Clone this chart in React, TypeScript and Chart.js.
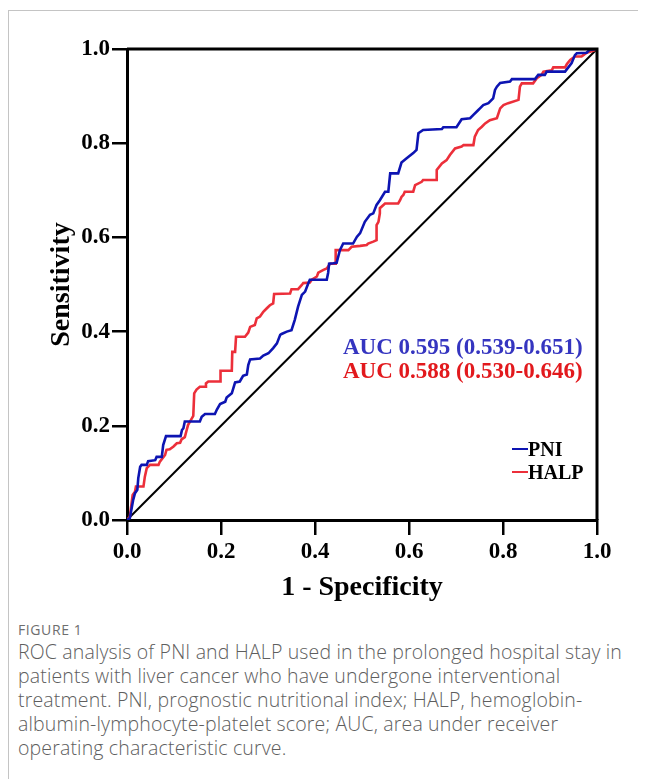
import React, { useEffect, useRef } from "react";
import { Chart, registerables } from "chart.js";

Chart.register(...registerables);

// ---- data ----
const pniFpr = [0, 0.006, 0.013, 0.017, 0.022, 0.024, 0.028, 0.031, 0.042, 0.045, 0.06, 0.063, 0.074, 0.077, 0.083, 0.114, 0.117, 0.12, 0.123, 0.155, 0.159, 0.166, 0.187, 0.191, 0.198, 0.209, 0.212, 0.223, 0.23, 0.24, 0.247, 0.255, 0.258, 0.262, 0.283, 0.29, 0.301, 0.311, 0.319, 0.326, 0.329, 0.34, 0.35, 0.357, 0.364, 0.372, 0.379, 0.386, 0.389, 0.425, 0.428, 0.43, 0.439, 0.446, 0.453, 0.46, 0.481, 0.489, 0.496, 0.506, 0.517, 0.524, 0.531, 0.538, 0.549, 0.556, 0.56, 0.577, 0.584, 0.595, 0.609, 0.616, 0.62, 0.63, 0.67, 0.673, 0.701, 0.712, 0.73, 0.737, 0.747, 0.751, 0.758, 0.769, 0.779, 0.783, 0.787, 0.794, 0.815, 0.819, 0.868, 0.875, 0.889, 0.893, 0.932, 0.946, 0.953, 0.957, 0.978, 0.984, 1];
const pniTpr = [0, 0.004, 0.042, 0.057, 0.064, 0.089, 0.113, 0.117, 0.117, 0.125, 0.127, 0.134, 0.134, 0.159, 0.178, 0.178, 0.191, 0.195, 0.209, 0.209, 0.219, 0.225, 0.225, 0.234, 0.246, 0.251, 0.26, 0.269, 0.292, 0.294, 0.306, 0.309, 0.329, 0.341, 0.343, 0.349, 0.354, 0.365, 0.375, 0.393, 0.395, 0.4, 0.403, 0.425, 0.453, 0.478, 0.485, 0.503, 0.51, 0.51, 0.525, 0.544, 0.545, 0.546, 0.573, 0.587, 0.587, 0.601, 0.609, 0.633, 0.648, 0.651, 0.669, 0.679, 0.697, 0.697, 0.736, 0.736, 0.759, 0.768, 0.779, 0.786, 0.821, 0.828, 0.83, 0.834, 0.834, 0.851, 0.853, 0.86, 0.87, 0.874, 0.881, 0.885, 0.895, 0.913, 0.92, 0.928, 0.931, 0.936, 0.936, 0.945, 0.945, 0.952, 0.952, 0.97, 0.987, 0.991, 0.992, 0.998, 1];

const halpFpr = [0, 0.006, 0.012, 0.017, 0.019, 0.035, 0.038, 0.042, 0.049, 0.067, 0.07, 0.081, 0.084, 0.091, 0.099, 0.106, 0.113, 0.116, 0.123, 0.127, 0.13, 0.134, 0.141, 0.143, 0.148, 0.155, 0.166, 0.168, 0.173, 0.198, 0.199, 0.223, 0.224, 0.23, 0.232, 0.251, 0.258, 0.262, 0.272, 0.276, 0.283, 0.29, 0.297, 0.304, 0.311, 0.313, 0.347, 0.35, 0.364, 0.372, 0.375, 0.389, 0.393, 0.404, 0.407, 0.418, 0.425, 0.432, 0.443, 0.444, 0.471, 0.478, 0.496, 0.51, 0.513, 0.524, 0.531, 0.531, 0.535, 0.538, 0.538, 0.549, 0.577, 0.581, 0.584, 0.588, 0.591, 0.609, 0.613, 0.627, 0.63, 0.659, 0.659, 0.67, 0.68, 0.687, 0.698, 0.712, 0.716, 0.737, 0.74, 0.747, 0.755, 0.762, 0.772, 0.787, 0.794, 0.801, 0.811, 0.833, 0.836, 0.84, 0.864, 0.872, 0.882, 0.886, 0.904, 0.907, 0.932, 0.936, 0.943, 0.953, 0.967, 0.971, 0.978, 0.985, 0.996, 1];
const halpTpr = [0, 0.007, 0.053, 0.06, 0.071, 0.071, 0.092, 0.11, 0.117, 0.117, 0.124, 0.138, 0.149, 0.15, 0.156, 0.163, 0.164, 0.171, 0.176, 0.191, 0.202, 0.209, 0.221, 0.269, 0.277, 0.283, 0.283, 0.29, 0.294, 0.294, 0.317, 0.317, 0.357, 0.357, 0.389, 0.389, 0.398, 0.41, 0.414, 0.428, 0.432, 0.442, 0.449, 0.456, 0.46, 0.48, 0.481, 0.49, 0.49, 0.499, 0.503, 0.504, 0.51, 0.517, 0.525, 0.531, 0.534, 0.544, 0.544, 0.573, 0.573, 0.58, 0.582, 0.584, 0.587, 0.591, 0.594, 0.626, 0.633, 0.651, 0.662, 0.672, 0.672, 0.679, 0.686, 0.69, 0.697, 0.697, 0.711, 0.718, 0.722, 0.722, 0.743, 0.757, 0.764, 0.775, 0.789, 0.793, 0.796, 0.796, 0.814, 0.828, 0.835, 0.842, 0.849, 0.853, 0.874, 0.881, 0.885, 0.892, 0.92, 0.927, 0.927, 0.938, 0.945, 0.952, 0.955, 0.961, 0.961, 0.968, 0.977, 0.984, 0.984, 0.987, 0.992, 0.994, 0.998, 1];

const refFpr = [0, 1];
const refTpr = [0, 1];

const seriesNames = ["PNI", "HALP"];
const seriesColors = ["#0d14b2", "#ec2f3a"];
const aucLabels = ["AUC 0.595 (0.539-0.651)", "AUC 0.588 (0.530-0.646)"];
const aucColors = ["#3535c0", "#e2191d"];
const xTitle = "1 - Specificity";
const yTitle = "Sensitivity";
const tickMin = 0;
const tickMax = 1;
const tickStep = 0.2;

const captionTitle = "FIGURE 1";
const captionText =
  "ROC analysis of PNI and HALP used in the prolonged hospital stay in patients with liver cancer who have undergone interventional treatment. PNI, prognostic nutritional index; HALP, hemoglobin-albumin-lymphocyte-platelet score; AUC, area under receiver operating characteristic curve.";

const toPoints = (xs: number[], ys: number[]) => xs.map((x, i) => ({ x, y: ys[i] }));

const SERIF = "'Liberation Serif', 'DejaVu Serif', serif";

const frameBox = {
  id: "frameBox",
  afterDatasetsDraw(chart: any) {
    const { ctx, chartArea } = chart;
    ctx.save();
    ctx.strokeStyle = "#000";
    ctx.lineWidth = 3;
    ctx.beginPath();
    ctx.moveTo(chartArea.left, chartArea.top);
    ctx.lineTo(chartArea.right, chartArea.top);
    ctx.lineTo(chartArea.right, chartArea.bottom);
    ctx.stroke();
    ctx.restore();
  },
};

function RocChart() {
  const ref = useRef<HTMLCanvasElement | null>(null);
  useEffect(() => {
    if (!ref.current) return;
    const tickFont = { family: SERIF, weight: "bold" as const, size: 23 };
    const titleFont = { family: SERIF, weight: "bold" as const, size: 28 };
    const chart = new Chart(ref.current, {
      type: "scatter",
      data: {
        datasets: [
          {
            label: seriesNames[0],
            data: toPoints(pniFpr, pniTpr),
            showLine: true,
            borderColor: seriesColors[0],
            borderWidth: 2.6,
            pointRadius: 0,
            tension: 0,
          },
          {
            label: seriesNames[1],
            data: toPoints(halpFpr, halpTpr),
            showLine: true,
            borderColor: seriesColors[1],
            borderWidth: 2.6,
            pointRadius: 0,
            tension: 0,
          },
          {
            label: "reference",
            data: toPoints(refFpr, refTpr),
            showLine: true,
            borderColor: "#000",
            borderWidth: 2,
            pointRadius: 0,
          },
        ],
      },
      options: {
        animation: false,
        responsive: false,
        maintainAspectRatio: false,
        layout: { padding: { top: 38, right: 42, left: 0, bottom: 0 } },
        plugins: { legend: { display: false }, tooltip: { enabled: false } },
        scales: {
          x: {
            type: "linear",
            min: tickMin,
            max: tickMax,
            ticks: {
              stepSize: tickStep,
              color: "#000",
              font: tickFont,
              padding: 3,
              maxRotation: 0,
              callback: (v: any) => Number(v).toFixed(1),
            },
            grid: {
              drawOnChartArea: false,
              drawTicks: true,
              tickLength: 15,
              color: "#000",
              lineWidth: 2.5,
            },
            border: { display: true, color: "#000", width: 3 },
            title: {
              display: true,
              text: xTitle,
              color: "#000",
              font: titleFont,
              padding: { top: 0, bottom: 6 },
            },
            afterFit: (s: any) => {
              s.height = 91;
            },
          },
          y: {
            type: "linear",
            min: tickMin,
            max: tickMax,
            ticks: {
              stepSize: tickStep,
              color: "#000",
              font: tickFont,
              padding: 2,
              callback: (v: any) => Number(v).toFixed(1),
            },
            grid: {
              drawOnChartArea: false,
              drawTicks: true,
              tickLength: 15,
              color: "#000",
              lineWidth: 2.5,
            },
            border: { display: true, color: "#000", width: 3 },
            title: {
              display: true,
              text: yTitle,
              color: "#000",
              font: titleFont,
              padding: { top: 36, bottom: 0 },
            },
            afterFit: (s: any) => {
              s.width = 118;
            },
          },
        },
      },
      plugins: [frameBox],
    } as any);
    return () => chart.destroy();
  }, []);
  return <canvas ref={ref} width={630} height={600} style={{ width: 630, height: 600, display: "block" }} />;
}

export default function App() {
  // inner coordinate origin is page (9, 11)
  const ox = 9;
  const oy = 11;
  const legendRows = [449, 472];
  return (
    <div style={{ paddingTop: 2 }}>
      <div
        style={{
          position: "relative",
          width: 646,
          height: 768,
          borderTop: "1px solid #c4c4c4",
          borderLeft: "1px solid #c4c4c4",
          boxSizing: "content-box",
        }}
      >
        <div style={{ position: "absolute", left: 0, top: 0, width: 630, height: 600 }}>
          <RocChart />
        </div>
        {aucLabels.map((t, i) => (
          <div
            key={t}
            style={{
              position: "absolute",
              left: 343 - ox,
              top: [347, 371][i] - oy - 13,
              height: 26,
              lineHeight: "26px",
              fontFamily: SERIF,
              fontWeight: "bold",
              fontSize: 23,
              color: aucColors[i],
              whiteSpace: "nowrap",
            }}
          >
            {t}
          </div>
        ))}
        {seriesNames.map((n, i) => (
          <div
            key={n}
            style={{
              position: "absolute",
              left: 512 - ox,
              top: legendRows[i] - oy - 12,
              height: 24,
              display: "flex",
              alignItems: "center",
              whiteSpace: "nowrap",
            }}
          >
            <span style={{ display: "inline-block", width: 16, height: 2, background: seriesColors[i] }} />
            <span
              style={{
                fontFamily: SERIF,
                fontWeight: "bold",
                fontSize: 20,
                color: "#000",
                lineHeight: "24px",
              }}
            >
              {n}
            </span>
          </div>
        ))}
        <div
          style={{
            position: "absolute",
            left: 18 - ox,
            top: 622 - oy,
            fontFamily: "'Open Sans', sans-serif",
            fontSize: 14,
            letterSpacing: 0.6,
            color: "#6e6e6e",
            lineHeight: "16px",
          }}
        >
          {captionTitle}
        </div>
        <div
          style={{
            position: "absolute",
            left: 18 - ox,
            top: 640 - oy,
            width: 612,
            fontFamily: "'Open Sans', sans-serif",
            fontWeight: 300,
            fontSize: 19.5,
            letterSpacing: 0.15,
            color: "#5e5e5e",
            lineHeight: "24px",
          }}
        >
          {captionText}
        </div>
      </div>
    </div>
  );
}
